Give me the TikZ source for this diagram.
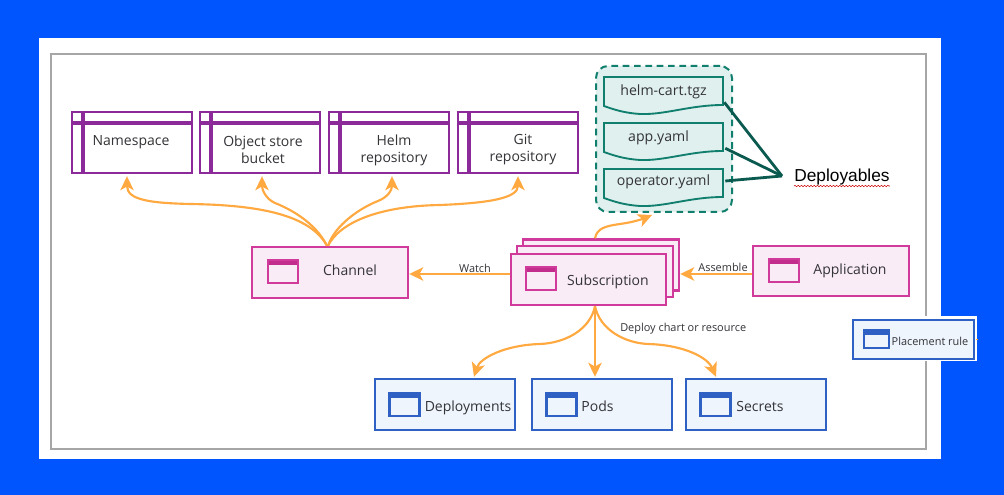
\documentclass[tikz,border=0pt]{standalone}
\usepackage{xcolor}
\usepackage{fontspec}
\setmainfont{Open Sans}
\newfontfamily\deployfont{Liberation Sans}
\usetikzlibrary{arrows.meta,decorations.pathmorphing}
\definecolor{bgblue}{HTML}{0055FF}
\definecolor{framegray}{HTML}{A6A6A6}
\definecolor{inkgray}{HTML}{333338}
\definecolor{repopurple}{HTML}{8C2A9A}
\definecolor{pinkline}{HTML}{CF3A9B}
\definecolor{pinkhead}{HTML}{C22C8C}
\definecolor{pinkfill}{HTML}{F9ECF6}
\definecolor{blueline}{HTML}{2F60C4}
\definecolor{bluefill}{HTML}{EEF5FD}
\definecolor{arroworange}{HTML}{FFA940}
\definecolor{docgreen}{HTML}{117F6E}
\definecolor{docfill}{HTML}{E0F0EE}
\definecolor{darkgreen}{HTML}{0B5A50}
\begin{document}
\begin{tikzpicture}[x=0.75pt, y=-0.75pt]
    % Define styles
    \tikzstyle{body} = [font=\fontsize{10.5pt}{12.75pt}\selectfont, text=inkgray, inner sep=0pt, align=center]
    \tikzstyle{small} = [font=\fontsize{8.2pt}{10pt}\selectfont, text=inkgray, inner sep=0pt]
    \tikzstyle{repobox} = [rectangle, draw=repopurple, line width=1.8pt, fill=white, minimum width=90pt, minimum height=45.75pt, inner sep=0pt,
        path picture={\draw[repopurple, line width=2.4pt] ([xshift=8.25pt]path picture bounding box.north west) -- ([xshift=8.25pt]path picture bounding box.south west);
            \draw[repopurple, line width=2.4pt] ([yshift=-8.25pt]path picture bounding box.north west) -- ([yshift=-8.25pt]path picture bounding box.north east);}]
    \tikzstyle{pinkbox} = [rectangle, draw=pinkline, line width=1.8pt, fill=pinkfill, minimum width=117pt, minimum height=38.25pt, inner sep=0pt]
    \tikzstyle{bluebox} = [rectangle, draw=blueline, line width=1.8pt, fill=bluefill, minimum width=105pt, minimum height=38.25pt, inner sep=0pt]
    \tikzstyle{pinkicon} = [rectangle, draw=pinkline, line width=1.8pt, fill=pinkfill, minimum width=22.5pt, minimum height=17.25pt, inner sep=0pt,
        path picture={\fill[pinkhead] (path picture bounding box.north west) rectangle ([yshift=-3.6pt]path picture bounding box.north east);}]
    \tikzstyle{blueicon} = [rectangle, draw=blueline, line width=1.8pt, fill=bluefill, minimum width=22.5pt, minimum height=17.25pt, inner sep=0pt,
        path picture={\fill[blueline] (path picture bounding box.north west) rectangle ([yshift=-3.6pt]path picture bounding box.north east);}]
    \tikzstyle{docbox} = [rectangle, minimum width=89.25pt, minimum height=21pt, inner sep=0pt, font=\fontsize{10.6pt}{12pt}\selectfont, text=inkgray]
    \tikzstyle{arrow} = [line width=1.6pt, arroworange, ->, >={Stealth[length=10.5pt,width=10pt,inset=2.8pt]}]
    \tikzstyle{tie} = [line width=2.1pt, darkgreen]

    % Background
    \fill[bgblue] (0,0) rectangle (1004,495);
    \fill[white] (39,38) rectangle (941,459);
    \draw[framegray, line width=2.1pt] (51,54) rectangle (926,449);

    % Repositories
    \foreach \name/\x/\tx/\ty/\txt in {ns/132/131/142/Namespace, bucket/260/263/150/{Object store\\bucket}, helm/389/394/150/{Helm\\repository}, git/518/523/150/{Git\\repository}} {
        \node[repobox] (\name) at (\x,142.5) {};
        \node[body] (\name text) at (\tx,\ty) {\txt};
    }

    % Deployables
    \node[rectangle, rounded corners=9pt, draw=docgreen, fill=docfill, line width=1.5pt, dashed, dash pattern=on 5pt off 3.5pt, minimum width=102pt, minimum height=109.5pt] (group) at (664,139) {};
    \foreach \name/\top/\y/\txt in {helmdoc/77/92/helm-cart.tgz, appdoc/123/138/{app.yaml\kern7.5pt}, opdoc/169/182/operator.yaml} {
        \draw[docgreen, fill=docfill, line width=1.4pt] (604,\top) -- (723,\top) -- (723,\top+28)
            .. controls (690,\top+28) and (665,\top+38) .. (640,\top+37)
            .. controls (625,\top+36) and (615,\top+33) .. (604,\top+29) -- cycle;
        \node[docbox] (\name) at (663.5,\y) {\txt};
    }
    \node[font=\deployfont\fontsize{13pt}{15pt}\selectfont, text=black, anchor=west, inner sep=0pt] (deploy) at (794,177) {Deployables};
    \draw[red!80!black, line width=0.4pt, decorate, decoration={snake, amplitude=0.5pt, segment length=2.4pt}] ([yshift=-0.5pt]deploy.south west) -- ([yshift=-0.5pt]deploy.south east);
    \coordinate (hub) at ([shift={(-12,-1)}]deploy.west);
    \draw[tie] ([shift={(1,-4)}]helmdoc.south east) -- (hub);
    \draw[tie] ([shift={(2,-4)}]appdoc.south east) -- (hub);
    \draw[tie] ([shift={(2,-1)}]opdoc.east) -- (hub);

    % Pink boxes
    \node[pinkbox] (channel) at (330,272.5) {};
    \node[pinkicon] (channelicon) at (283,271.5) {};
    \node[body] (channeltext) at (350,270) {Channel};
    \node[pinkbox] (subback) at (601,265) {};
    \node[pinkbox] (submid) at (595,271.5) {};
    \node[pinkbox, minimum width=116pt] (sub) at (588.5,279.5) {};
    \node[pinkicon] (subicon) at (541,278.5) {};
    \node[body] (subtext) at (608,281.5) {Subscription};
    \node[pinkbox, minimum height=37.5pt] (app) at (831,271) {};
    \node[pinkicon] (appicon) at (784,270.5) {};
    \node[body] (apptext) at (850,271) {Application};

    % Blue boxes
    \foreach \name/\x/\tx/\ty/\txt in {deployments/445/468/407.5/Deployments, pods/602/597.5/406/Pods, secrets/756/760/406/Secrets} {
        \node[bluebox] (\name) at (\x,404.5) {};
        \node[blueicon] (\name icon) at (\x-40.5,404.5) {};
        \node[body] (\name text) at (\tx,\ty) {\txt};
    }
    \node[rectangle, fill=white, minimum width=93pt, minimum height=33.75pt, inner sep=0pt] (placeback) at (915,338.5) {};
    \node[bluebox, minimum width=90.75pt, minimum height=29.25pt] (placement) at (913.5,339.5) {};
    \node[blueicon, minimum width=18.75pt, minimum height=13.5pt] (placementicon) at (876.5,339) {};
    \node[small] (placementtext) at (930,341) {Placement rule};

    % Arrows
    \draw[arrow] ([shift={(-3,0)}]channel.north) .. controls (310,215) and (260,205) .. (190,204) .. controls (150,203) and (127,200) .. ([shift={(-5,2)}]ns.south);
    \draw[arrow] ([shift={(-3,0)}]channel.north) .. controls (315,222) and (290,209) .. (275,203) .. controls (266,199) and (262,190) .. ([shift={(2,2)}]bucket.south);
    \draw[arrow] ([shift={(-2,0)}]channel.north) .. controls (335,225) and (360,208) .. (378,201) .. controls (388,197) and (392,190) .. ([shift={(3,2)}]helm.south);
    \draw[arrow] ([shift={(-2,0)}]channel.north) .. controls (340,222) and (380,206) .. (440,205) .. controls (490,203) and (518,198) .. ([shift={(0,2)}]git.south);
    \draw[arrow] (sub.west |- 0,274) -- (channel.east |- 0,274);
    \draw[arrow] (app.west |- 0,274) -- (subback.east |- 0,274);
    \draw[arrow] (subback.north -| 595,0) .. controls (597,228) and (606,226) .. (620,224) .. controls (635,222) and (645,218) .. ([shift={(-12,2)}]group.south);
    \draw[arrow] ([shift={(6.5,0)}]sub.south) .. controls (590,330) and (565,343) .. (540,344) .. controls (505,345) and (480,358) .. ([shift={(29,-1)}]deployments.north);
    \draw[arrow] ([shift={(6.5,0)}]sub.south) -- ([shift={(-7,-1)}]pods.north);
    \draw[arrow] ([shift={(6.5,0)}]sub.south) .. controls (600,330) and (625,343) .. (648,344) .. controls (685,345) and (708,358) .. ([shift={(-40,-1)}]secrets.north);
    \draw[arroworange, line width=1pt] ([xshift=0.75pt]placement.east) -- ([xshift=2pt]placement.east);

    % Labels
    \node[small] (watch) at (475,268) {Watch};
    \node[small] (assemble) at (723,267) {Assemble};
    \node[small, anchor=west] (deploychart) at (620,329) {Deploy chart or resource};
\end{tikzpicture}
\end{document}
